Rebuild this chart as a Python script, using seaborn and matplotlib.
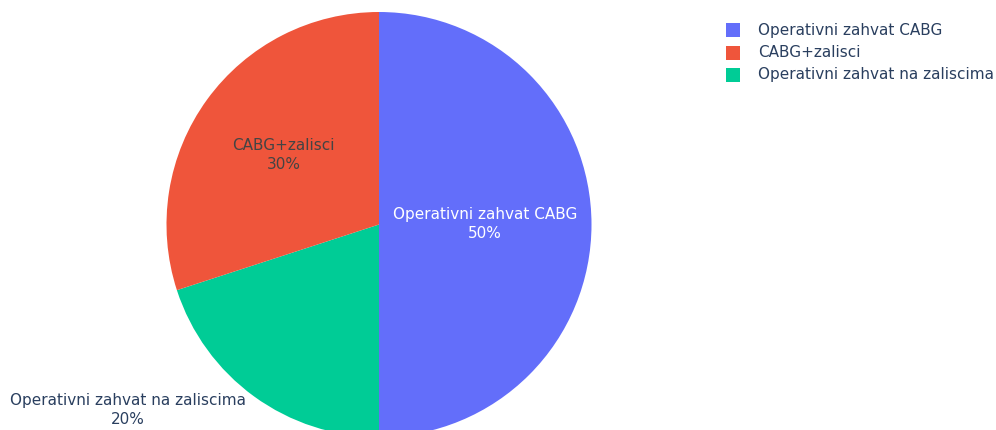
import matplotlib
matplotlib.use('Agg')
import matplotlib.pyplot as plt
import seaborn as sns
import numpy as np
from matplotlib.patches import Rectangle

categories = ['Operativni zahvat CABG', 'CABG+zalisci', 'Operativni zahvat na zaliscima']
values = [50, 30, 20]
colors = ['#636efa', '#EF553B', '#00cc96']

sns.set_theme(style='white')
plt.rcParams['font.family'] = ['DejaVu Sans']

W, H = 996, 430
FS = 15.2 * 72 / 100  # ~15px
fig = plt.figure(figsize=(W / 100, H / 100), dpi=100)
ax = fig.add_axes([0, 0, 1, 1])

palette = sns.color_palette(colors)
order = [0, 2, 1]  # visual clockwise from top: blue, green, red
cx, cy, R = 379, 224.5, 212.5
wedges, _ = ax.pie([values[i] for i in order], colors=[palette[i] for i in order],
                   startangle=-90, counterclock=True, center=(cx, cy), radius=R,
                   wedgeprops=dict(linewidth=0), frame=True)
ax.set_xlim(0, W)
ax.set_ylim(H, 0)
ax.set_aspect('equal')
ax.axis('off')

total = sum(values)
place = {0: (0.50, None, 'white'),
         1: (0.556, None, '#444444'),
         2: (1.468, 143.5, '#2a3f5f')}
for w, i in zip(wedges, order):
    frac, ang, col = place[i]
    mid = (w.theta1 + w.theta2) / 2 if ang is None else ang
    x = cx + frac * R * np.cos(np.radians(mid))
    y = cy + frac * R * np.sin(np.radians(mid))
    pct = f"{round(values[i] / total * 100)}%"
    ax.text(x, y - 9.5, categories[i], ha='center', va='center', fontsize=FS, color=col)
    ax.text(x, y + 9.5, pct, ha='center', va='center', fontsize=FS, color=col)

for k, (lab, c) in enumerate(zip(categories, palette)):
    yy = 30 + 22.5 * k
    ax.add_patch(Rectangle((726, yy - 7), 14, 14, facecolor=c, edgecolor='none'))
    ax.text(758, yy, lab, ha='left', va='center', fontsize=FS, color='#2a3f5f')

fig.savefig('out.png', dpi=100)
